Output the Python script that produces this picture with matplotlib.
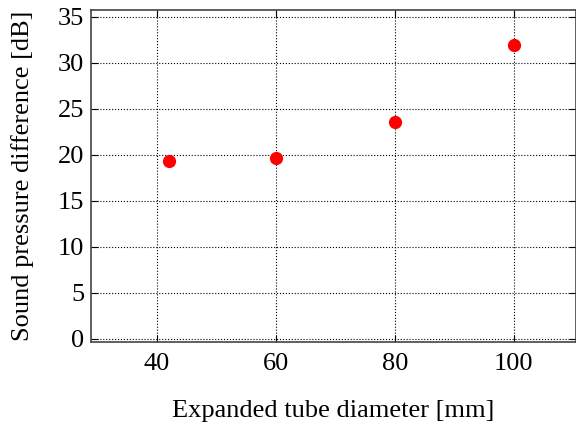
import matplotlib
matplotlib.use('Agg')
import matplotlib.pyplot as plt

# data
diameter = [42, 60, 80, 100]
spl_diff = [19.3, 19.7, 23.6, 31.9]
xticks = [40, 60, 80, 100]
yticks = [0, 5, 10, 15, 20, 25, 30, 35]

plt.rcParams['font.family'] = ['Liberation Serif', 'DejaVu Serif']

fig = plt.figure(figsize=(5.76, 4.24), dpi=100)
ax = fig.add_axes([0.158, 0.193, 0.842, 0.783])

ax.plot(diameter, spl_diff, 'o', color='red', markersize=8.5, zorder=3)

ax.set_xlim(28.9, 110.5)
ax.set_ylim(-0.35, 35.7)
ax.set_xticks(xticks)
ax.set_yticks(yticks)
ax.grid(True, linestyle=':', color='black', linewidth=0.8)
ax.tick_params(direction='in', top=True, right=True, length=5, labelsize=19)
ax.tick_params(axis='x', pad=8)
ax.tick_params(axis='y', pad=5)
for s in ax.spines.values():
    s.set_color('#444444')
    s.set_linewidth(1.2)

ax.set_xlabel('Expanded tube diameter [mm]', fontsize=19, labelpad=18)
ax.set_ylabel('Sound pressure difference [dB]', fontsize=19, labelpad=17)

fig.savefig('out.png', dpi=100)
